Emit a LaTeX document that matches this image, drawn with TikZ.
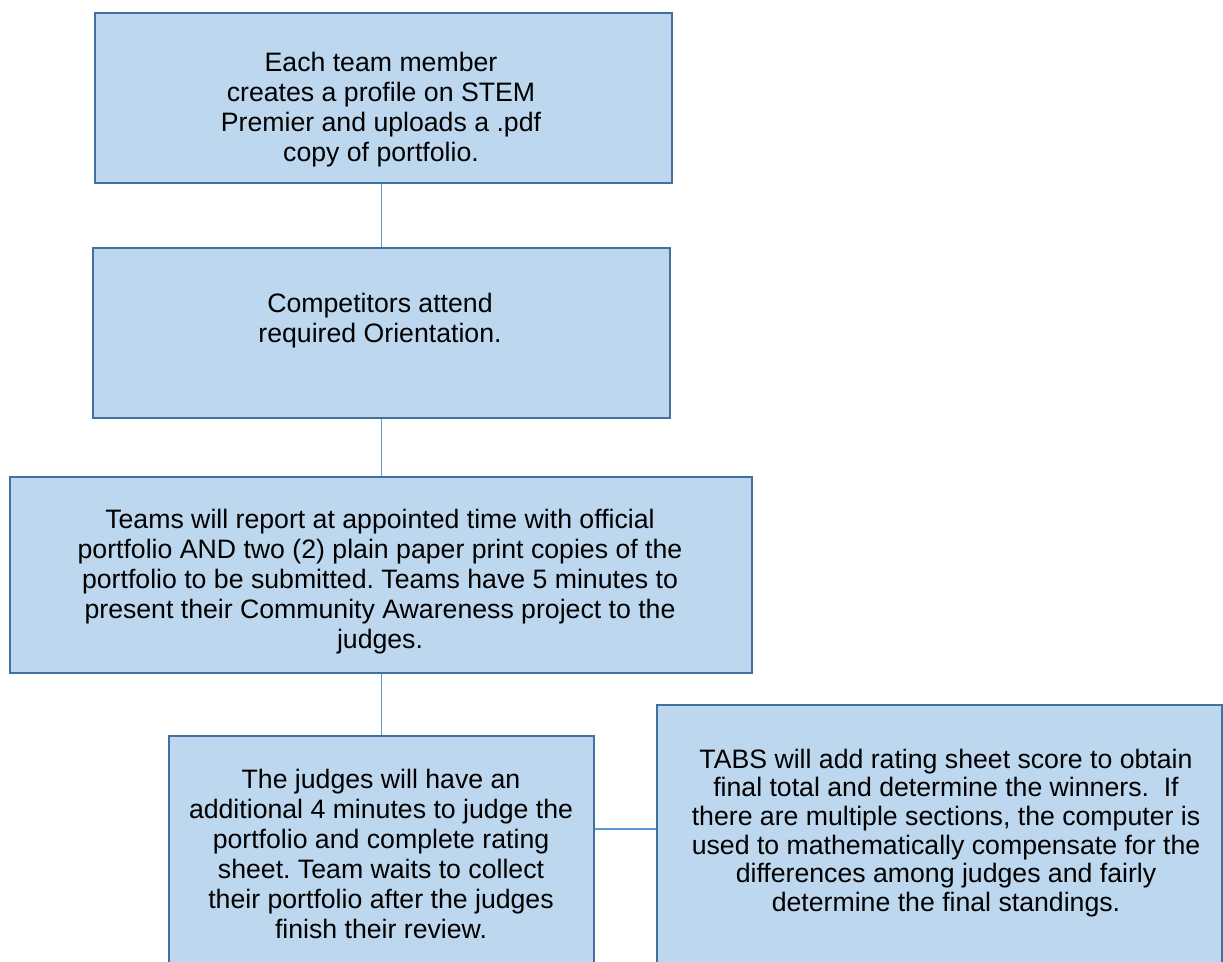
\documentclass[tikz,border=0pt]{standalone}
\usepackage{fontspec}
\setmainfont{Liberation Sans}
\usetikzlibrary{positioning}
\definecolor{boxfill}{HTML}{BDD7EE}
\definecolor{boxline}{HTML}{41719C}
\definecolor{linkblue}{HTML}{5B9BD5}
\frenchspacing

\begin{document}
\begin{tikzpicture}[x=0.75pt,y=-0.75pt,
      bx/.style={draw=boxline,fill=boxfill,line width=1.8pt,inner sep=0pt,
                 anchor=north west},
      tx/.style={align=center,inner sep=0pt,
                 font=\fontsize{20}{22.5}\selectfont},
      ln/.style={draw=linkblue,line width=0.9pt}]

    \useasboundingbox (0,0) rectangle (1223,962);
    \clip (0,0) rectangle (1223,962);

    % ================= boxes =================
    \node[bx,minimum width=432.75pt,minimum height=127.5pt] (b1) at (94,12) {};
    \node[bx,minimum width=432.75pt,minimum height=127.5pt] (b2) at (92,247) {};
    \node[bx,minimum width=556.5pt,minimum height=147pt]    (b3) at (9,476) {};
    \node[bx,minimum width=318.75pt,minimum height=198.75pt] (b4) at (168,735) {};
    \node[bx,minimum width=423.75pt,minimum height=222pt]   (b5) at (656,704) {};

    % ================= texts =================
    \node[tx] (t1) at (381,110)
      {Each team member\\ creates a profile on STEM\\
       Premier and uploads a .pdf\\ copy of portfolio.};
    \node[tx] (t2) at (380,321)
      {Competitors attend\\ required Orientation.};
    \node[tx] (t3) at (380,581.5)
      {Teams will report at appointed time with official\\
       portfolio AND two (2) plain paper print copies of the\\
       portfolio to be submitted. Teams have 5 minutes to\\
       present their Community Awareness project to the\\
       judges.};
    \node[tx] (t4) at (381,854)
      {The judges will have an\\ additional 4 minutes to judge the\\
       portfolio and complete rating\\ sheet. Team waits to collect\\
       their portfolio after the judges\\ finish their review.};
    \node[tx,font=\fontsize{20}{21.5}\selectfont] (t5) at (946,833)
      {TABS will add rating sheet score to obtain\\
       final total and determine the winners.\ \ If\\
       there are multiple sections, the computer is\\
       used to mathematically compensate for the\\
       differences among judges and fairly\\
       determine the final standings.};

    % ================= connectors =================
    \draw[ln] (b1.south -| b2) -- (b2.north);
    \draw[ln] (b2.south) -- (b3.north -| b2.south);
    \draw[ln] (b3.south -| b4) -- (b4.north);
    \coordinate (j45) at (620,829);
    \draw[ln] (b4.east |- j45) -- (b5.west |- j45);
  \end{tikzpicture}
\end{document}
